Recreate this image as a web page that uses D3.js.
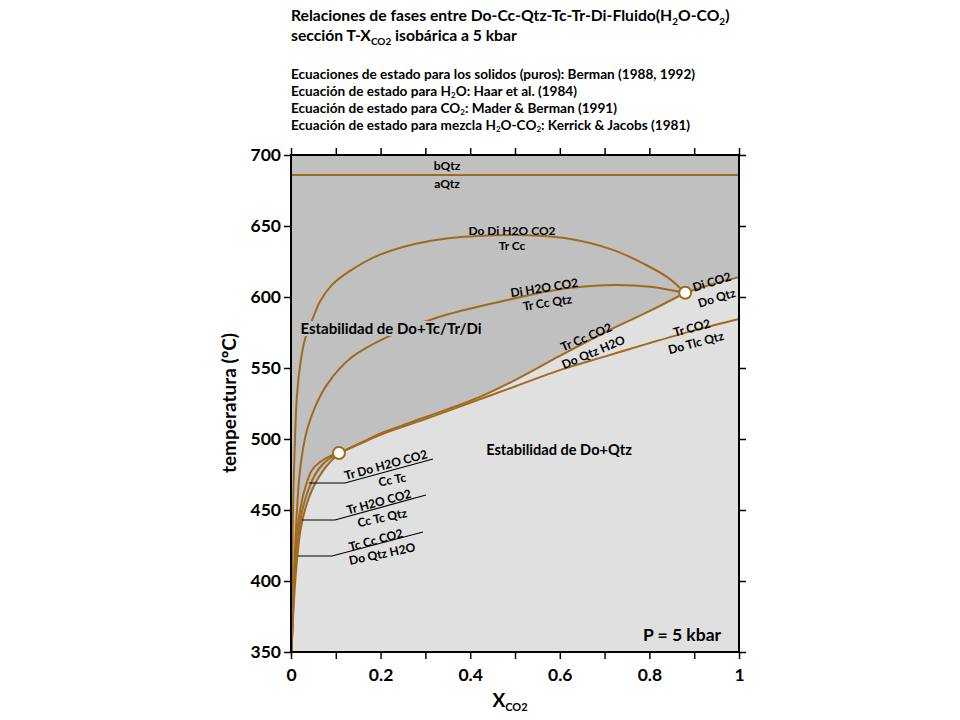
<!DOCTYPE html>
<html><head><meta charset="utf-8">
<script src="https://cdn.jsdelivr.net/npm/d3@7"></script>
<style>
body{margin:0;background:#fff}
svg{display:block}
text{font-family:Lato,'Open Sans',sans-serif;font-weight:bold;fill:#000}
</style>
</head><body>
<svg id="c" width="960" height="720"></svg>
<script>
// ---------- data ----------
const xTickValues = [0,0.1,0.2,0.3,0.4,0.5,0.6,0.7,0.8,0.9,1];
const xTickLabels = {0:"0",0.2:"0.2",0.4:"0.4",0.6:"0.6",0.8:"0.8",1:"1"};
const yTickValues = [350,400,450,500,550,600,650,700];

const qtzTransitionT = 686;        // bQtz / aQtz
const invariantPoints = [[0.107,490.1],[0.88,603]];

// Do Di H2O CO2 / Tr Cc
const curveDoDi = [[0.001,350],[0.0025,400],[0.0045,450],[0.0074,485],[0.0127,527.5],[0.02,551],[0.031,570],[0.05,586],[0.065,597],[0.09,608],[0.125,617],[0.2,630],[0.31,639.5],[0.46,643.5],[0.61,641.5],[0.72,633],[0.79,623],[0.84,614],[0.88,603]];
// Di H2O CO2 / Tr Cc Qtz
const curveDiH2O = [[0.0011,350],[0.0056,386.6],[0.0089,421.8],[0.0134,450],[0.0179,471.1],[0.0246,488.7],[0.0357,506.3],[0.0536,522.5],[0.0826,539.4],[0.1362,557.7],[0.2143,571.8],[0.325,585.4],[0.4665,596.7],[0.615,606.1],[0.727,608.5],[0.801,607.3],[0.88,603]];
// bundle to lower invariant point
const curveTrDo = [[0.0011,350],[0.0045,386.6],[0.0089,414.8],[0.0145,435.9],[0.0223,453.5],[0.0335,467.6],[0.0469,478.2],[0.0647,483.8],[0.0871,488],[0.107,490.1]];
const curveTrH2O = [[0.0011,350],[0.0056,386.6],[0.0112,414.8],[0.0179,435.9],[0.0268,452.1],[0.0402,465.5],[0.0547,475.4],[0.0714,482.4],[0.0893,487],[0.107,490.1]];
const curveTcCc = [[0.0011,350],[0.0067,386.6],[0.0134,414.8],[0.0212,435.9],[0.0324,451.4],[0.0469,464.1],[0.0625,473.2],[0.0781,480.3],[0.0938,485.9],[0.107,490.1]];
// Tr Cc CO2 / Do Qtz H2O
const curveTrCc = [[0.107,490.1],[0.16,498],[0.2,504],[0.27,512],[0.35,521],[0.42,529.5],[0.5,541.5],[0.6,558.5],[0.7,575],[0.8,590],[0.88,603]];
// Tr CO2 / Do Tlc Qtz
const curveTrCO2 = [[0.107,490.1],[0.15,496],[0.2,503],[0.3,514],[0.4,525.5],[0.5,537],[0.6,548.5],[0.7,558],[0.8,567.5],[0.9,576.5],[1.0,584.5]];
// Di CO2 / Do Qtz
const curveDiCO2 = [[0.88,603],[0.94,609],[1.0,614]];

// ---------- setup ----------
const svg = d3.select("#c");
const x = d3.scaleLinear().domain([0,1]).range([291,739]);
const y = d3.scaleLinear().domain([350,700]).range([652,155]);
const lineColor = "#a06a1e";
const line = d3.line().x(d=>x(d[0])).y(d=>y(d[1])).curve(d3.curveCatmullRom.alpha(0.5));

// background fills
svg.append("rect").attr("x",x(0)).attr("y",y(700)).attr("width",x(1)-x(0)).attr("height",y(350)-y(700)).attr("fill","#e0e0e0");
const seg = pts => line(pts).replace(/^M/,"L");
const darkPath = "M"+x(0)+","+y(700)+"L"+x(1)+","+y(700)
  + seg(curveDiCO2.slice().reverse())
  + seg(curveTrCc.slice().reverse())
  + seg(curveTcCc.slice().reverse())
  + "L"+x(0)+","+y(350)+"Z";
svg.append("path").attr("d",darkPath).attr("fill","#c0c0c0");

// curves
const gCurves = svg.append("g");
gCurves.append("line").attr("x1",x(0)).attr("x2",x(1)).attr("y1",y(qtzTransitionT)).attr("y2",y(qtzTransitionT))
  .attr("stroke",lineColor).attr("stroke-width",2);
[curveDoDi,curveDiH2O,curveTrDo,curveTrH2O,curveTcCc,curveTrCc,curveTrCO2,curveDiCO2].forEach(c=>{
  gCurves.append("path").attr("d",line(c)).attr("fill","none").attr("stroke",lineColor).attr("stroke-width",2);
});

// labels
function lab(t,cx,cy,size,rot){
  return svg.append("text").attr("text-anchor","middle").attr("font-size",size)
    .attr("transform",`translate(${cx},${cy}) rotate(${rot||0})`).text(t);
}
lab("bQtz",447,170,12); lab("aQtz",447,188,12);
lab("Do Di H2O CO2",512,235,12); lab("Tr Cc",512,250,12);
lab("Di H2O CO2",545,292,12,-9); lab("Tr Cc Qtz",548,307,12,-9);
lab("Di CO2",713,286,12,-17); lab("Do Qtz",718,302,12,-17);
lab("Tr Cc CO2",588,341,12,-23); lab("Do Qtz H2O",595,356,12,-23);
lab("Tr CO2",693,332,12,-15); lab("Do Tlc Qtz",697,347,12,-15);
lab("Estabilidad de Do+Qtz",559,455,14.6);

// big label with masking background
const est = svg.append("text").attr("x",391).attr("y",334).attr("text-anchor","middle").attr("font-size",15).text("Estabilidad de Do+Tc/Tr/Di");
const bb = est.node().getBBox();
svg.insert("rect","text").attr("x",bb.x-2).attr("y",bb.y+2).attr("width",bb.width+4).attr("height",bb.height-3).attr("fill","#c0c0c0");

lab("P = 5 kbar",682,641,17.5);

// bundle labels with pointers
const pointers = [
  [[309,483],[345,483],[433,459]],
  [[302,520],[335,520],[426,495]],
  [[298,556],[332,556],[423,532]]
];
pointers.forEach(p=>svg.append("path").attr("d",d3.line()(p)).attr("fill","none").attr("stroke","#000").attr("stroke-width",1.2));
lab("Tr Do H2O CO2",387,469,12,-15); lab("Cc Tc",393,484,12,-10);
lab("Tr H2O CO2",380,506,12,-15); lab("Cc Tc Qtz",383,522,12,-12);
lab("Tc Cc CO2",377,544,12,-15); lab("Do Qtz H2O",383,558,12,-12);

// invariant points
svg.selectAll("circle.ip").data(invariantPoints).enter().append("circle")
  .attr("cx",d=>x(d[0])).attr("cy",d=>y(d[1])).attr("r",6)
  .attr("fill","#fff").attr("stroke",lineColor).attr("stroke-width",2);

// axes
const ax = svg.append("g");
ax.append("g").attr("transform",`translate(${x(0)},0)`)
  .call(d3.axisLeft(y).tickValues(yTickValues).tickSize(7).tickPadding(3).tickFormat(d3.format("d")));
ax.append("g").attr("transform",`translate(${x(1)},0)`)
  .call(d3.axisRight(y).tickValues(yTickValues).tickSize(7).tickFormat(""));
ax.append("g").attr("transform",`translate(0,${y(350)})`)
  .call(d3.axisBottom(x).tickValues(xTickValues).tickSize(7).tickPadding(10).tickFormat(d=>xTickLabels[d]!==undefined?xTickLabels[d]:""));
ax.append("g").attr("transform",`translate(0,${y(700)})`)
  .call(d3.axisTop(x).tickValues(xTickValues).tickSize(7).tickFormat(""));
ax.selectAll(".domain").remove();
ax.selectAll(".tick line").attr("stroke","#000").attr("stroke-width",1.5);
ax.selectAll(".tick text").attr("font-size",17.5).attr("font-family","Lato,sans-serif").attr("font-weight","bold").attr("fill","#000");
svg.append("rect").attr("x",x(0)).attr("y",y(700)).attr("width",x(1)-x(0)).attr("height",y(350)-y(700))
  .attr("fill","none").attr("stroke","#000").attr("stroke-width",2);

// axis titles
svg.append("text").attr("transform","translate(236,403) rotate(-90)").attr("text-anchor","middle").attr("font-size",19).text("temperatura (ºC)");
const xt = svg.append("text").attr("x",510).attr("y",707).attr("text-anchor","middle").attr("font-size",19);
xt.append("tspan").text("X");
xt.append("tspan").attr("font-size",11).attr("dy",4).text("CO2");

// title block
const t1 = svg.append("text").attr("x",291).attr("y",21).attr("font-size",15.7);
t1.append("tspan").text("Relaciones de fases entre Do-Cc-Qtz-Tc-Tr-Di-Fluido(H");
t1.append("tspan").attr("font-size",10).attr("dy",4).text("2");
t1.append("tspan").attr("dy",-4).text("O-CO");
t1.append("tspan").attr("font-size",10).attr("dy",4).text("2");
t1.append("tspan").attr("dy",-4).text(")");
const t2 = svg.append("text").attr("x",291).attr("y",41).attr("font-size",15.7);
t2.append("tspan").text("sección T-X");
t2.append("tspan").attr("font-size",10).attr("dy",4).text("CO2");
t2.append("tspan").attr("dy",-4).text(" isobárica a 5 kbar");

const infoLines = [
  [["Ecuaciones de estado para los solidos (puros): Berman (1988, 1992)",0]],
  [["Ecuación de estado para H",0],["2",1],["O: Haar et al. (1984)",0]],
  [["Ecuación de estado para CO",0],["2",1],[": Mader & Berman (1991)",0]],
  [["Ecuación de estado para mezcla H",0],["2",1],["O-CO",0],["2",1],[": Kerrick & Jacobs (1981)",0]]
];
infoLines.forEach((parts,i)=>{
  const t = svg.append("text").attr("x",291).attr("y",79+i*17).attr("font-size",13.6);
  let sub=false;
  parts.forEach(([s,isSub])=>{
    const sp = t.append("tspan").text(s);
    if(isSub){sp.attr("font-size",8).attr("dy",2);sub=true;}
    else if(sub){sp.attr("dy",-2);sub=false;}
  });
});
</script>
</body></html>
